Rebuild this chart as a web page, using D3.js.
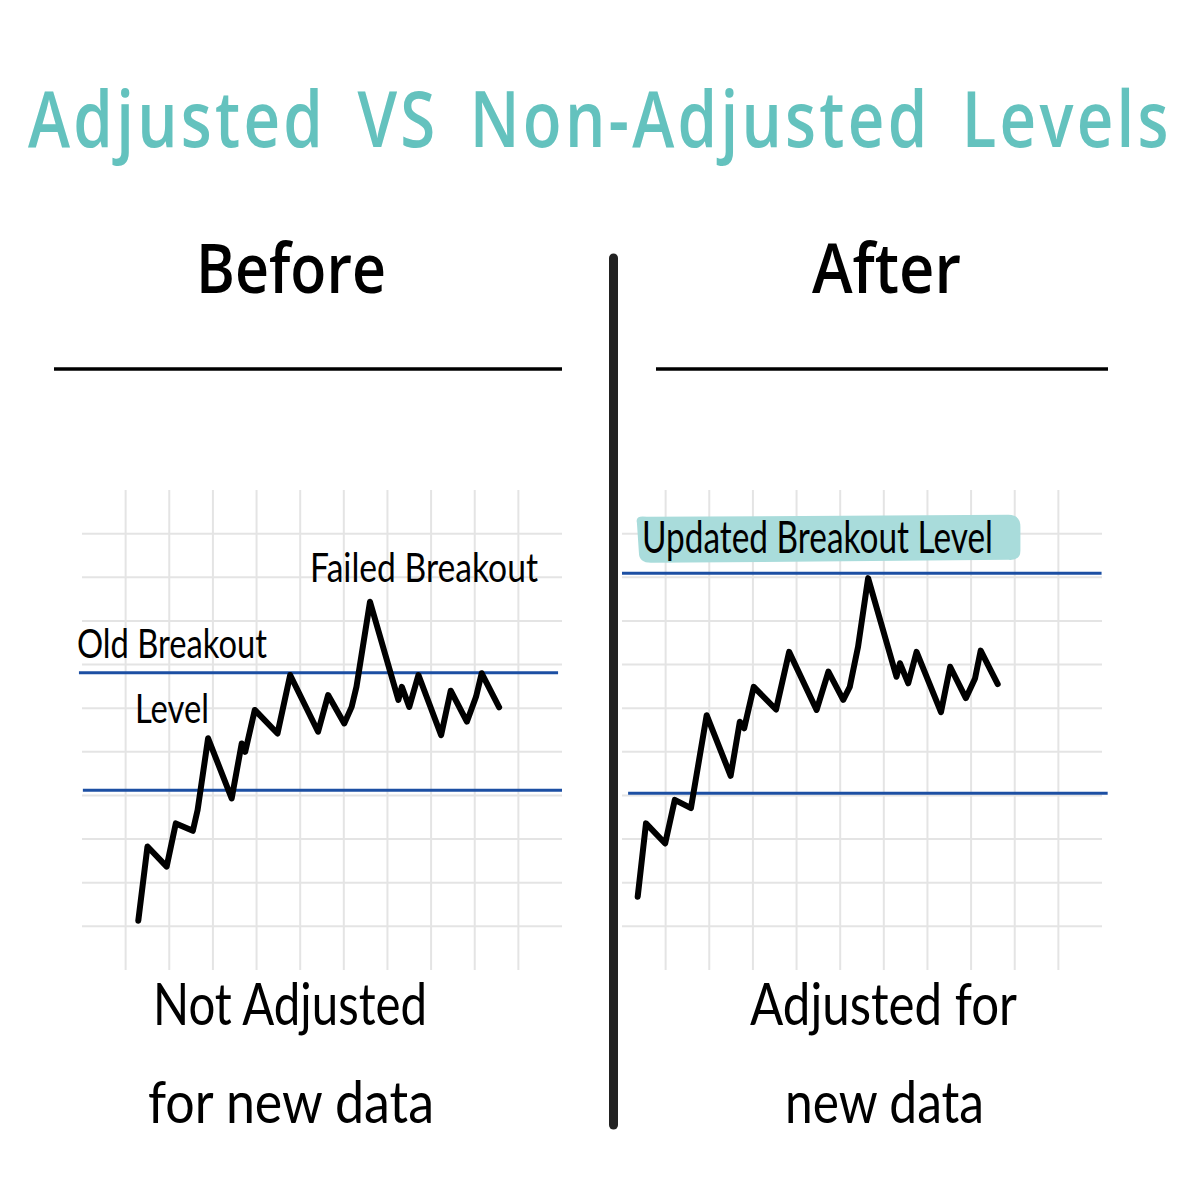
<!DOCTYPE html>
<html>
<head>
<meta charset="utf-8">
<script src="https://cdn.jsdelivr.net/npm/d3@7"></script>
<style>
  html, body { margin: 0; padding: 0; background: #ffffff; }
  svg { display: block; }
</style>
</head>
<body>
<svg id="chart" width="1200" height="1200"></svg>
<script>
// ---------------- DATA ----------------
const title = "Adjusted VS Non-Adjusted Levels";
const panelTitles = ["Before", "After"];
const captionsBefore = ["Not Adjusted", "for new data"];
const captionsAfter = ["Adjusted for", "new data"];

// grid units: columns/rows 1..10 are drawn
const gridTicks = [1, 2, 3, 4, 5, 6, 7, 8, 9, 10];

// Before (non-adjusted) price path, in grid units
const beforeX = [1.29, 1.50, 1.94, 2.15, 2.54, 2.65, 2.89, 3.43, 3.66, 3.74, 3.96, 4.48, 4.77, 5.41, 5.64, 6.01, 6.18, 6.29, 6.60, 7.25, 7.33, 7.50, 7.71, 8.23, 8.45, 8.82, 9.03, 9.16, 9.56];
const beforeY = [1.13, 2.83, 2.37, 3.36, 3.19, 3.67, 5.31, 3.93, 5.19, 5.00, 5.96, 5.42, 6.76, 5.46, 6.30, 5.65, 6.03, 6.49, 8.44, 6.19, 6.49, 6.03, 6.76, 5.38, 6.40, 5.69, 6.26, 6.80, 6.02];
// Before levels (y, x-start, x-end)
const beforeLevels = [
  { y: 6.81, x0: -0.07, x1: 10.91 },
  { y: 4.12, x0: 0.02, x1: 11.0 }
];

// After (adjusted) price path, in grid units
const afterX = [0.36, 0.55, 0.99, 1.21, 1.58, 1.94, 2.49, 2.70, 2.80, 3.02, 3.53, 3.83, 4.46, 4.73, 5.07, 5.22, 5.41, 5.64, 6.29, 6.37, 6.56, 6.75, 7.31, 7.52, 7.88, 8.09, 8.22, 8.61];
const afterY = [1.68, 3.36, 2.90, 3.90, 3.71, 5.84, 4.45, 5.69, 5.54, 6.49, 5.97, 7.29, 5.96, 6.84, 6.19, 6.49, 7.41, 8.98, 6.72, 7.03, 6.57, 7.29, 5.91, 6.95, 6.23, 6.68, 7.32, 6.55];
const afterLevels = [
  { y: 9.09, x0: 0.0, x1: 10.99 },
  { y: 4.05, x0: 0.14, x1: 11.13 }
];

// annotations
const beforeNotes = ["Failed Breakout", "Old Breakout", "Level"];
const afterNote = "Updated Breakout Level";

// ---------------- DRAW ----------------
const svg = d3.select("#chart");
const TEAL = "#64c2be";
const BLUE = "#1c4fa3";
const GRID = "#e4e4e4";
const HAND = "'Lato', 'Open Sans', sans-serif";

// Title: tall narrow glyphs -> scale horizontally to the reference width
const tg = svg.append("g");
const tt = tg.append("text")
  .attr("x", 0).attr("y", 0)
  .attr("font-family", "'Open Sans', 'Noto Sans', sans-serif")
  .attr("font-weight", 600)
  .attr("font-size", 78)
  .attr("letter-spacing", 4)
  .attr("word-spacing", 14)
  .attr("fill", TEAL)
  .text(title);
const natW = tt.node().getComputedTextLength();
tg.attr("transform", `translate(28,147) scale(${1144 / natW},1)`);

// Panel headings
const headings = [
  { t: panelTitles[0], x: 196, w: 190 },
  { t: panelTitles[1], x: 812, w: 149 }
];
headings.forEach(h => {
  svg.append("text")
    .attr("x", h.x).attr("y", 293)
    .attr("textLength", h.w).attr("lengthAdjust", "spacingAndGlyphs")
    .attr("font-family", "'Open Sans', 'Noto Sans', sans-serif")
    .attr("font-weight", 600)
    .attr("font-size", 68)
    .attr("fill", "#000")
    .text(h.t);
});

// heading underlines
svg.append("line").attr("x1", 54).attr("x2", 562).attr("y1", 369).attr("y2", 369)
  .attr("stroke", "#000").attr("stroke-width", 3.5);
svg.append("line").attr("x1", 656).attr("x2", 1108).attr("y1", 369).attr("y2", 369)
  .attr("stroke", "#000").attr("stroke-width", 3.5);

// vertical divider
svg.append("line").attr("x1", 613.5).attr("x2", 613.5).attr("y1", 258).attr("y2", 1125)
  .attr("stroke", "#222").attr("stroke-width", 9).attr("stroke-linecap", "round");

function panel(x0px, xs, ys, levels) {
  const x = d3.scaleLinear().domain([0, 11]).range([x0px, x0px + 480]);
  const y = d3.scaleLinear().domain([0, 11]).range([970, 490]);
  const g = svg.append("g");
  // grid
  g.selectAll("line.v").data(gridTicks).join("line")
    .attr("class", "v")
    .attr("x1", d => x(d)).attr("x2", d => x(d))
    .attr("y1", y(11)).attr("y2", y(0))
    .attr("stroke", GRID).attr("stroke-width", 2);
  g.selectAll("line.h").data(gridTicks).join("line")
    .attr("class", "h")
    .attr("x1", x(0)).attr("x2", x(11))
    .attr("y1", d => y(d)).attr("y2", d => y(d))
    .attr("stroke", GRID).attr("stroke-width", 2);
  // levels
  g.selectAll("line.lvl").data(levels).join("line")
    .attr("class", "lvl")
    .attr("x1", d => x(d.x0)).attr("x2", d => x(d.x1))
    .attr("y1", d => y(d.y)).attr("y2", d => y(d.y))
    .attr("stroke", BLUE).attr("stroke-width", 3);
  // price path
  const pts = xs.map((v, i) => [v, ys[i]]);
  g.append("path")
    .attr("d", d3.line().x(d => x(d[0])).y(d => y(d[1]))(pts))
    .attr("fill", "none").attr("stroke", "#000")
    .attr("stroke-width", 6).attr("stroke-linejoin", "round").attr("stroke-linecap", "round");
  return { g, x, y };
}

const left = panel(82, beforeX, beforeY, beforeLevels);
const right = panel(622, afterX, afterY, afterLevels);

function hand(txt, xpx, ypx, w, size) {
  svg.append("text")
    .attr("x", xpx).attr("y", ypx)
    .attr("textLength", w).attr("lengthAdjust", "spacingAndGlyphs")
    .attr("font-family", HAND)
    .attr("font-weight", 400)
    .attr("font-size", size)
    .attr("fill", "#000")
    .text(txt);
}

// Before annotations
hand(beforeNotes[0], 310, 582, 228, 40);
hand(beforeNotes[1], 77, 658, 190, 40);
hand(beforeNotes[2], 135, 723, 74, 40);

// After highlight + annotation
const hx0 = right.x(0.25), hx1 = right.x(9.13);
const hy0 = right.y(10.43), hy1 = right.y(9.33);
svg.append("path")
  .attr("d", `M${hx0 + 4},${hy0 + 8} Q${hx0 + 2},${hy0} ${hx0 + 14},${hy0 + 2}
              L${hx1 - 12},${hy0} Q${hx1},${hy0} ${hx1},${hy0 + 12}
              L${hx1},${hy1 - 12} Q${hx1},${hy1 - 2} ${hx1 - 12},${hy1 - 3}
              L${hx0 + 18},${hy1} Q${hx0 + 6},${hy1} ${hx0 + 6},${hy1 - 10} Z`)
  .attr("fill", "#a9dcdb");
hand(afterNote, 642, 553, 351, 44);

// captions
hand(captionsBefore[0], 153, 1025, 274, 58);
hand(captionsBefore[1], 148, 1123, 286, 58);
hand(captionsAfter[0], 750, 1025, 267, 58);
hand(captionsAfter[1], 785, 1123, 199, 58);
</script>
</body>
</html>
